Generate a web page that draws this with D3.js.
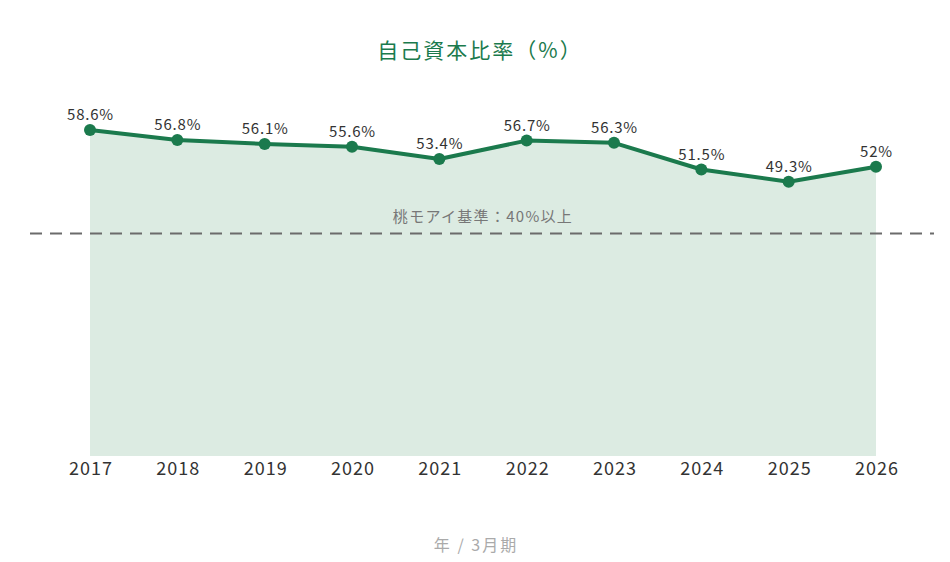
<!DOCTYPE html>
<html>
<head>
<meta charset="utf-8">
<script src="https://cdn.jsdelivr.net/npm/d3@7"></script>
<style>
  body { margin: 0; background: #fff; }
  text { font-family: "Noto Sans CJK JP", "Noto Sans", sans-serif; }
</style>
</head>
<body>
<svg id="chart" width="950" height="562"></svg>
<script>
const years = ["2017","2018","2019","2020","2021","2022","2023","2024","2025","2026"];
const ratios = [58.6, 56.8, 56.1, 55.6, 53.4, 56.7, 56.3, 51.5, 49.3, 52];
const labels = ["58.6%","56.8%","56.1%","55.6%","53.4%","56.7%","56.3%","51.5%","49.3%","52%"];
const baseline = 40;

const width = 950, height = 562;
const green = "#1b7a4d";

let svg = d3.select("#chart");

let x = d3.scalePoint()
    .domain(years)
    .range([90, 876]);

let y = d3.scaleLinear()
    .domain([0, 70])
    .range([456, 66.6]);

let data = years.map((yr, i) => ({year: yr, value: ratios[i], label: labels[i]}));

// title
svg.append("text")
    .attr("x", width/2 + 5).attr("y", 58)
    .attr("text-anchor", "middle")
    .attr("font-size", 21)
    .attr("letter-spacing", 2)
    .attr("fill", green)
    .text("自己資本比率（%）");

// area
let area = d3.area()
    .x(d => x(d.year))
    .y0(y(0))
    .y1(d => y(d.value));
svg.append("path")
    .datum(data)
    .attr("d", area)
    .attr("fill", "#dcebe2");

// reference line
svg.append("line")
    .attr("x1", 30).attr("x2", 934)
    .attr("y1", y(baseline)).attr("y2", y(baseline))
    .attr("stroke", "#6b6b6b")
    .attr("stroke-width", 2)
    .attr("stroke-dasharray", "12,8");

svg.append("text")
    .attr("x", 483).attr("y", y(baseline) - 11)
    .attr("text-anchor", "middle")
    .attr("font-size", 15)
    .attr("letter-spacing", 1.3)
    .attr("fill", "#777")
    .text("桃モアイ基準：40%以上");

// line
let line = d3.line()
    .x(d => x(d.year))
    .y(d => y(d.value));
svg.append("path")
    .datum(data)
    .attr("d", line)
    .attr("fill", "none")
    .attr("stroke", green)
    .attr("stroke-width", 4)
    .attr("stroke-linejoin", "round");

svg.selectAll("circle.pt")
    .data(data)
    .enter()
    .append("circle")
    .attr("class", "pt")
    .attr("cx", d => x(d.year))
    .attr("cy", d => y(d.value))
    .attr("r", 6)
    .attr("fill", green);

svg.selectAll("text.val")
    .data(data)
    .enter()
    .append("text")
    .attr("class", "val")
    .attr("x", d => x(d.year) + 0.5)
    .attr("y", d => y(d.value) - 10)
    .attr("text-anchor", "middle")
    .attr("font-size", 15)
    .attr("letter-spacing", 0.8)
    .attr("fill", "#333")
    .text(d => d.label);

// x axis labels
let xAxis = svg.append("g")
    .attr("transform", "translate(0,456)")
    .call(d3.axisBottom(x).tickSize(0).tickPadding(6));
xAxis.select(".domain").remove();
xAxis.selectAll("text")
    .attr("font-size", 18)
    .attr("letter-spacing", 1)
    .attr("dx", 0.5)
    .attr("fill", "#333")
    .attr("font-family", "Noto Sans CJK JP, sans-serif");

svg.append("text")
    .attr("x", width/2 + 1).attr("y", 551)
    .attr("text-anchor", "middle")
    .attr("font-size", 16)
    .attr("letter-spacing", 2)
    .attr("fill", "#aaa")
    .text("年 / 3月期");
</script>
</body>
</html>
